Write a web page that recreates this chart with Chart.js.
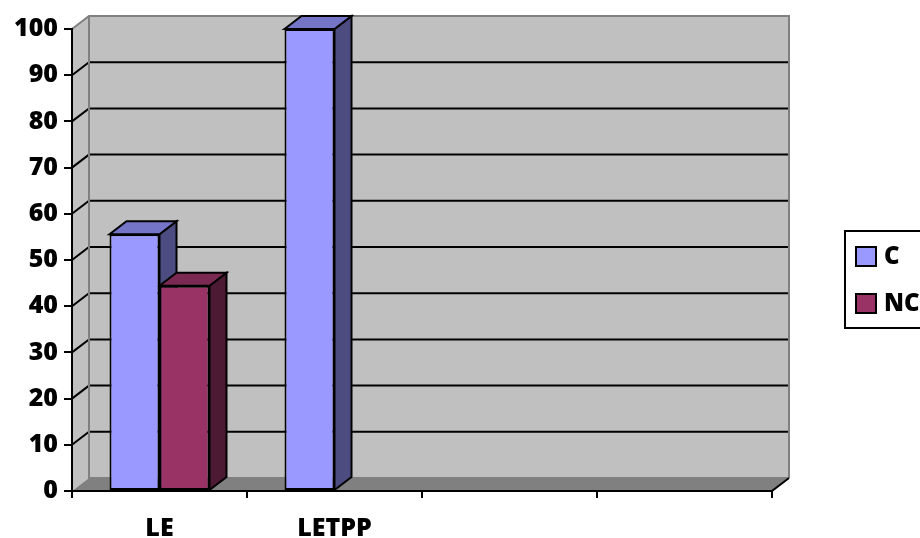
<!DOCTYPE html>
<html>
<head>
<meta charset="utf-8">
<script src="https://cdn.jsdelivr.net/npm/chart.js@4.4.1/dist/chart.umd.min.js"></script>
<style>
  html, body { margin: 0; padding: 0; background: #ffffff; }
  #wrap { width: 920px; height: 538px; position: relative; }
</style>
</head>
<body>
<div id="wrap"><canvas id="chart" width="920" height="538"></canvas></div>
<script>
// Categories and series values
const categories = ['LE', 'LETPP', '', ''];
const seriesNames = ['C', 'NC'];
const valuesC = [55.56, 100, null, null];
const valuesNC = [44.44, 0, null, null];
const yMin = 0;
const yMax = 100;
const yStep = 10;

// Depth of the pseudo-3D walls and bars
const DX = 17;
const DY = 13;
const FONT = '"Open Sans", Lato, sans-serif';
const WEIGHT = '800';

function poly(ctx, pts) {
  ctx.beginPath();
  ctx.moveTo(pts[0][0], pts[0][1]);
  for (let i = 1; i < pts.length; i++) ctx.lineTo(pts[i][0], pts[i][1]);
  ctx.closePath();
}

// Back wall, side wall, floor and the receding gridlines
const wallsPlugin = {
  id: 'walls',
  beforeDraw(chart) {
    const { ctx, chartArea: a, scales: { y } } = chart;
    const L = a.left, R = a.right;
    const T = y.getPixelForValue(yMax), B = y.getPixelForValue(yMin);
    ctx.save();
    ctx.fillStyle = '#c0c0c0';
    poly(ctx, [[L, T], [L + DX, T - DY], [L + DX, B - DY], [L, B]]);
    ctx.fill();
    ctx.fillRect(L + DX, T - DY, R - L, B - T);
    ctx.fillStyle = '#808080';
    poly(ctx, [[L, B], [L + DX, B - DY], [R + DX, B - DY], [R, B]]);
    ctx.fill();

    // gridlines: diagonal on the side wall, horizontal on the back wall
    ctx.strokeStyle = '#000000';
    ctx.lineWidth = 2;
    y.ticks.forEach(t => {
      if (t.value <= yMin || t.value >= yMax) return;
      const yy = y.getPixelForValue(t.value);
      ctx.beginPath();
      ctx.moveTo(L, yy);
      ctx.lineTo(L + DX, yy - DY);
      ctx.lineTo(R + DX, yy - DY);
      ctx.stroke();
    });

    // wall outlines
    ctx.strokeStyle = '#808080';
    ctx.lineWidth = 2;
    ctx.beginPath();
    ctx.moveTo(L, T);
    ctx.lineTo(L + DX, T - DY);
    ctx.lineTo(R + DX, T - DY);
    ctx.lineTo(R + DX, B - DY);
    ctx.moveTo(L + DX, T - DY);
    ctx.lineTo(L + DX, B - DY);
    ctx.lineTo(R + DX, B - DY);
    ctx.stroke();

    // floor front-right edge
    ctx.strokeStyle = '#000000';
    ctx.beginPath();
    ctx.moveTo(R, B);
    ctx.lineTo(R + DX, B - DY);
    ctx.stroke();
    ctx.restore();
  }
};

// Side and top faces of each column
const barFacesPlugin = {
  id: 'barFaces',
  beforeDatasetsDraw(chart) {
    const ctx = chart.ctx;
    ctx.save();
    ctx.strokeStyle = '#000000';
    ctx.lineWidth = 2;
    ctx.lineJoin = 'miter';
    chart.data.datasets.forEach((ds, i) => {
      const meta = chart.getDatasetMeta(i);
      meta.data.forEach((bar, j) => {
        const v = ds.data[j];
        if (v === null || v === undefined || v <= 0) return;
        const { x, y, base, width } = bar.getProps(['x', 'y', 'base', 'width'], true);
        const l = x - width / 2, r = x + width / 2;
        ctx.fillStyle = ds.sideColor;
        poly(ctx, [[r, y], [r + DX, y - DY], [r + DX, base - DY], [r, base]]);
        ctx.fill();
        ctx.stroke();
        ctx.fillStyle = ds.topColor;
        poly(ctx, [[l, y], [l + DX, y - DY], [r + DX, y - DY], [r, y]]);
        ctx.fill();
        ctx.stroke();
      });
    });
    ctx.restore();
  }
};

// Boxed legend on the right
const legendPlugin = {
  id: 'boxLegend',
  afterDraw(chart) {
    const ctx = chart.ctx;
    const bx = 845, by = 231, bw = 130, bh = 97;
    ctx.save();
    ctx.strokeStyle = '#000000';
    ctx.lineWidth = 2;
    ctx.strokeRect(bx, by, bw, bh);
    ctx.font = WEIGHT + ' 24px ' + FONT;
    ctx.textBaseline = 'middle';
    ctx.textAlign = 'left';
    chart.data.datasets.forEach((ds, i) => {
      const sy = 247 + i * 47;
      ctx.fillStyle = ds.backgroundColor;
      ctx.fillRect(856, sy, 20, 19);
      ctx.strokeRect(856, sy, 20, 19);
      ctx.fillStyle = '#000000';
      ctx.fillText(ds.label, 884, sy + 10);
    });
    ctx.restore();
  }
};

new Chart(document.getElementById('chart'), {
  type: 'bar',
  data: {
    labels: categories,
    datasets: [
      {
        label: seriesNames[0],
        data: valuesC,
        backgroundColor: '#9999ff',
        topColor: '#7575c8',
        sideColor: '#4c4c80',
        borderColor: '#000000',
        borderWidth: 2,
        borderSkipped: false,
        categoryPercentage: 100 / 175,
        barPercentage: 1
      },
      {
        label: seriesNames[1],
        data: valuesNC,
        backgroundColor: '#993366',
        topColor: '#7a2952',
        sideColor: '#4d1a33',
        borderColor: '#000000',
        borderWidth: 2,
        borderSkipped: false,
        categoryPercentage: 100 / 175,
        barPercentage: 1
      }
    ]
  },
  options: {
    responsive: false,
    animation: false,
    devicePixelRatio: 1,
    layout: { padding: { top: 29, right: 148, left: 0, bottom: 0 } },
    plugins: {
      legend: { display: false },
      tooltip: { enabled: false }
    },
    scales: {
      x: {
        offset: true,
        grid: {
          offset: true,
          drawOnChartArea: false,
          drawTicks: true,
          tickLength: 7,
          color: '#000000',
          lineWidth: 2
        },
        border: { display: true, color: '#000000', width: 2 },
        ticks: {
          color: '#000000',
          font: { family: FONT, size: 25, weight: WEIGHT },
          padding: 16,
          maxRotation: 0,
          autoSkip: false
        },
        afterFit(scale) { scale.height = 47; }
      },
      y: {
        min: yMin,
        max: yMax,
        grid: {
          drawOnChartArea: false,
          drawTicks: true,
          tickLength: 8,
          color: '#000000',
          lineWidth: 2
        },
        border: { display: true, color: '#000000', width: 2 },
        ticks: {
          stepSize: yStep,
          color: '#000000',
          font: { family: FONT, size: 25, weight: WEIGHT },
          padding: 6
        },
        afterFit(scale) { scale.width = 72; }
      }
    }
  },
  plugins: [wallsPlugin, barFacesPlugin, legendPlugin]
});
</script>
</body>
</html>
